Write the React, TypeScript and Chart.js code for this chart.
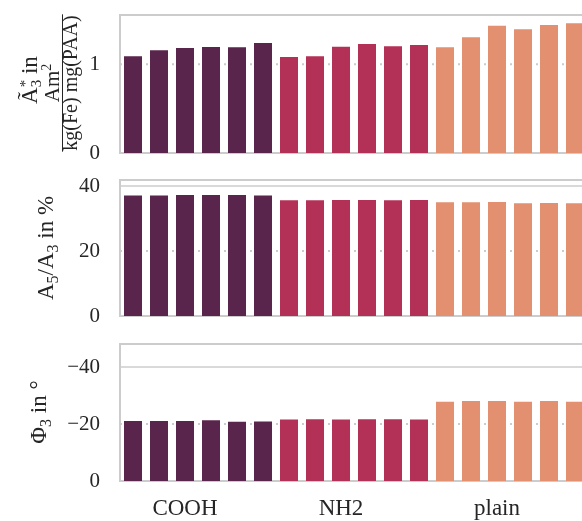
import React, { useEffect, useRef } from "react";
import { Chart, registerables } from "chart.js";

Chart.register(...registerables);

// ---------------- data ----------------
const GROUPS = ["COOH", "NH2", "plain"];
const SAMPLES_PER_GROUP = 6;
const GROUP_COLORS = ["#5a254c", "#b33057", "#e2906f"];

// Ã3* in Am^2 / (kg(Fe) mg(PAA))
const AMPLITUDE = [
  1.09, 1.158, 1.184, 1.195, 1.192, 1.24,
  1.082, 1.09, 1.198, 1.229, 1.203, 1.218,
  1.192, 1.304, 1.435, 1.394, 1.443, 1.462,
];
// A5/A3 in %
const RATIO = [
  37.1, 37.1, 37.2, 37.2, 37.2, 37.1,
  35.6, 35.6, 35.7, 35.7, 35.6, 35.7,
  35.0, 35.0, 35.1, 34.7, 34.8, 34.7,
];
// Phi3 in degrees
const PHASE = [
  -21.05, -21.05, -21.05, -21.3, -20.8, -20.9,
  -21.6, -21.7, -21.6, -21.7, -21.7, -21.6,
  -27.8, -28.1, -28.1, -27.8, -28.1, -27.8,
];

const AMP_TICKS = [0, 1];
const RATIO_TICKS = [0, 20, 40];
const PHASE_TICKS = [0, -20, -40];

// built from the arrays above
const X_LABELS: string[] = GROUPS.flatMap((g) => Array(SAMPLES_PER_GROUP).fill(g));
const BAR_COLORS: string[] = GROUPS.flatMap((_, gi) => Array(SAMPLES_PER_GROUP).fill(GROUP_COLORS[gi]));

// ---------------- styling ----------------
const FONT = '"Liberation Serif", "DejaVu Serif", serif';
const TEXT = "#262626";
const FRAME = "#cccccc";

type Seg = { t?: string; s?: number; dy?: number; stack?: Seg[] };

function drawRotated(ctx: CanvasRenderingContext2D, segs: Seg[], baseX: number, centerY: number, size: number) {
  const widthOf = (seg: Seg): number => {
    if (seg.stack) return Math.max(...seg.stack.map(widthOf));
    ctx.font = `${seg.s ?? size}px ${FONT}`;
    return ctx.measureText(seg.t || "").width;
  };
  const total = segs.reduce((a, s) => a + widthOf(s), 0);
  ctx.save();
  ctx.translate(baseX, centerY);
  ctx.rotate(-Math.PI / 2);
  ctx.fillStyle = TEXT;
  ctx.textBaseline = "alphabetic";
  ctx.textAlign = "left";
  const drawSeg = (seg: Seg, x0: number) => {
    if (seg.stack) {
      seg.stack.forEach((s) => drawSeg(s, x0));
      return;
    }
    ctx.font = `${seg.s ?? size}px ${FONT}`;
    ctx.fillText(seg.t || "", x0, seg.dy ?? 0);
  };
  let x = -total / 2;
  for (const seg of segs) {
    drawSeg(seg, x);
    x += widthOf(seg);
  }
  ctx.restore();
  return total;
}

const TITLE_AMP_LEFT: Seg[] = [
  { t: "Ã" },
  { stack: [{ t: "*", s: 15, dy: -7 }, { t: "3", s: 15, dy: 4 }] },
  { t: " in" },
];
const TITLE_AMP_NUM: Seg[] = [{ t: "Am" }, { t: "2", s: 14, dy: -8 }];
const TITLE_AMP_DEN: Seg[] = [{ t: "kg(Fe) mg(PAA)" }];
const TITLE_RATIO: Seg[] = [
  { t: "A" }, { t: "5", s: 16, dy: 5 }, { t: "/A" }, { t: "3", s: 16, dy: 5 }, { t: " in %" },
];
const TITLE_PHASE: Seg[] = [{ t: "Φ" }, { t: "3", s: 16, dy: 5 }, { t: " in " }, { t: "°" }];

function fmtTick(v: number) {
  if (v === 0) return "0";
  return v < 0 ? "\u2212" + Math.abs(v) : String(v);
}

type PanelProps = {
  top: number;
  height: number;
  padTop: number;
  padBottom: number;
  values: number[];
  min: number;
  max: number;
  reverse?: boolean;
  ticks: number[];
  solidTick?: number;
  showX: boolean;
  drawTitle: (ctx: CanvasRenderingContext2D) => void;
};

function Panel(p: PanelProps) {
  const ref = useRef<HTMLCanvasElement | null>(null);
  useEffect(() => {
    if (!ref.current) return;
    const framePlugin = {
      id: "frameAndGrid",
      beforeDatasetsDraw(chart: any) {
        const { ctx, chartArea } = chart;
        const ys = chart.scales.y;
        ctx.save();
        ctx.strokeStyle = FRAME;
        for (const v of p.ticks) {
          if (v === 0) continue;
          const y = ys.getPixelForValue(v);
          const solid = v === p.solidTick;
          ctx.lineWidth = solid ? 1.5 : 2;
          ctx.setLineDash(solid ? [] : [2, 4.5]);
          ctx.beginPath();
          ctx.moveTo(chartArea.left, y);
          ctx.lineTo(chartArea.right, y);
          ctx.stroke();
        }
        ctx.setLineDash([]);
        ctx.lineWidth = 2;
        ctx.strokeRect(chartArea.left, chartArea.top, chartArea.right - chartArea.left, chartArea.bottom - chartArea.top);
        ctx.restore();
      },
      afterDraw(chart: any) {
        p.drawTitle(chart.ctx);
      },
    };
    const chart = new Chart(ref.current, {
      type: "bar",
      data: {
        labels: X_LABELS,
        datasets: [
          {
            data: p.values,
            backgroundColor: BAR_COLORS,
            borderWidth: 0,
            barPercentage: 18 / 26,
            categoryPercentage: 1,
          },
        ],
      },
      options: {
        animation: false,
        responsive: false,
        maintainAspectRatio: false,
        events: [],
        layout: { padding: { top: p.padTop, bottom: p.padBottom, left: 0, right: 12 } },
        plugins: { legend: { display: false }, tooltip: { enabled: false } },
        scales: {
          x: {
            display: p.showX,
            grid: { display: false, drawTicks: false },
            border: { display: false },
            ticks: {
              autoSkip: false,
              maxRotation: 0,
              padding: 14,
              color: TEXT,
              font: { family: FONT, size: 23 },
              callback: (_v: any, i: number) => (i % SAMPLES_PER_GROUP === 2 ? X_LABELS[i] : ""),
            },
            afterFit: (s: any) => {
              s.height = p.showX ? 40 : 0;
              s.paddingLeft = 0;
              s.paddingRight = 0;
            },
          },
          y: {
            min: p.min,
            max: p.max,
            reverse: !!p.reverse,
            grid: { display: false, drawTicks: false },
            border: { display: false },
            afterBuildTicks: (s: any) => {
              s.ticks = p.ticks.map((v) => ({ value: v }));
            },
            afterFit: (s: any) => {
              s.width = 120;
              s.paddingTop = 0;
              s.paddingBottom = 0;
            },
            ticks: {
              padding: 20,
              color: TEXT,
              font: { family: FONT, size: 21 },
              callback: (v: any) => fmtTick(Number(v)),
            },
          },
        },
      },
      plugins: [framePlugin],
    } as any);
    return () => chart.destroy();
  }, []);
  return (
    <canvas
      ref={ref}
      width={600}
      height={p.height}
      style={{ position: "absolute", left: 0, top: p.top, width: 600, height: p.height }}
    />
  );
}

export default function App() {
  return (
    <div
      style={{
        position: "absolute",
        left: 0,
        top: 0,
        width: 582,
        height: 521,
        overflow: "hidden",
        background: "#ffffff",
      }}
    >
      <Panel
        top={0}
        height={165}
        padTop={15}
        padBottom={12}
        values={AMPLITUDE}
        min={0}
        max={1.556}
        ticks={AMP_TICKS}
        showX={false}
        drawTitle={(ctx) => {
          drawRotated(ctx, TITLE_AMP_LEFT, 37, 80, 23);
          drawRotated(ctx, TITLE_AMP_NUM, 59, 83, 21);
          const w = drawRotated(ctx, TITLE_AMP_DEN, 77, 83, 20);
          ctx.save();
          ctx.strokeStyle = TEXT;
          ctx.lineWidth = 1;
          ctx.beginPath();
          ctx.moveTo(62.5, 83 - w / 2 - 1);
          ctx.lineTo(62.5, 83 + w / 2 + 1);
          ctx.stroke();
          ctx.restore();
        }}
      />
      <Panel
        top={165}
        height={160}
        padTop={15}
        padBottom={9}
        values={RATIO}
        min={0}
        max={41.85}
        ticks={RATIO_TICKS}
        solidTick={40}
        showX={false}
        drawTitle={(ctx) => {
          drawRotated(ctx, TITLE_RATIO, 53, 83, 23);
        }}
      />
      <Panel
        top={330}
        height={191}
        padTop={14}
        padBottom={0}
        values={PHASE}
        min={-48.07}
        max={0}
        reverse
        ticks={PHASE_TICKS}
        solidTick={-40}
        showX={true}
        drawTitle={(ctx) => {
          drawRotated(ctx, TITLE_PHASE, 46, 82, 23);
        }}
      />
    </div>
  );
}
